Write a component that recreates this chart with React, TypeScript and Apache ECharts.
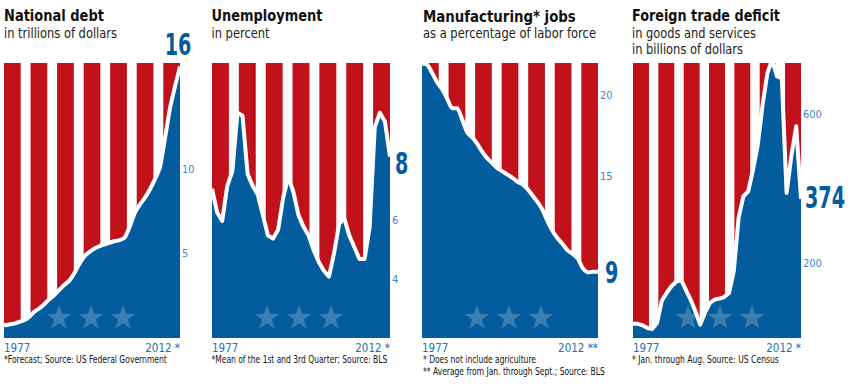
import React, { useEffect, useRef } from "react";
import * as echarts from "echarts";

// ---------- data ----------
const years = [
  1977, 1978, 1979, 1980, 1981, 1982, 1983, 1984, 1985, 1986, 1987, 1988,
  1989, 1990, 1991, 1992, 1993, 1994, 1995, 1996, 1997, 1998, 1999, 2000,
  2001, 2002, 2003, 2004, 2005, 2006, 2007, 2008, 2009, 2010, 2011, 2012,
];

const debtTrillions = [
  0.75, 0.8, 0.85, 0.95, 1.05, 1.25, 1.55, 1.75, 2.0, 2.3, 2.55, 2.85,
  3.15, 3.4, 3.85, 4.4, 4.85, 5.1, 5.3, 5.45, 5.55, 5.65, 5.75, 5.8,
  5.95, 6.6, 7.4, 7.9, 8.3, 8.8, 9.4, 10.1, 11.8, 13.6, 14.9, 16.1,
];

const unemploymentPct = [
  7.1, 6.3, 6.0, 7.2, 7.7, 9.7, 9.6, 7.6, 7.2, 6.9, 6.2, 5.5,
  5.4, 5.7, 6.8, 7.5, 7.0, 6.2, 5.8, 5.5, 5.0, 4.6, 4.3, 4.1,
  4.9, 5.9, 6.1, 5.5, 5.1, 4.7, 4.7, 5.8, 9.2, 9.7, 9.4, 8.2,
];

const manufacturingPct = [
  21.95, 21.9, 21.4, 20.8, 20.4, 19.8, 19.2, 19.2, 18.5, 17.7, 17.4, 17.0,
  16.5, 16.1, 15.8, 15.5, 15.3, 15.1, 14.9, 14.65, 14.5, 14.2, 13.8, 13.4,
  12.9, 12.2, 11.6, 11.15, 10.8, 10.4, 10.2, 9.9, 9.3, 9.05, 9.1, 9.1,
];

const tradeDeficitBn = [
  38, 38, 34, 27, 24, 40, 100, 121, 139, 151, 157, 130,
  103, 72, 36, 68, 94, 103, 106, 110, 121, 180, 323, 381,
  394, 452, 519, 627, 712, 748, 703, 698, 390, 490, 569, 374,
];

const seriesValues = [debtTrillions, unemploymentPct, manufacturingPct, tradeDeficitBn];

const titles = ["National debt", "Unemployment", "Manufacturing* jobs", "Foreign trade deficit"];
const subtitles = [
  ["in trillions of dollars"],
  ["in percent"],
  ["as a percentage of labor force"],
  ["in goods and services", "in billions of dollars"],
];
const footnotes = [
  ["*Forecast; Source: US Federal Government"],
  ["*Mean of the 1st and 3rd Quarter; Source: BLS"],
  ["* Does not include agriculture", "** Average from Jan. through Sept.; Source: BLS"],
  ["* Jan. through Aug. Source: US Census"],
];
const startYearLabels = ["1977", "1977", "1977", "1977"];
const endYearLabels = ["2012 *", "2012 *", "2012 **", "2012 *"];
const endValueLabels = ["16", "8", "9", "374"];
const tickValues = [[5, 10], [4, 6, 8], [15, 20], [200, 600]];
const tickLabelValues = [[5, 10], [4, 6], [15, 20], [200, 600]];
const yMins = [0, 2, 5, 0];
const yMaxs = [16.3, 11.4, 22, 739];

// ---------- layout / style ----------
const PLOT_TOP = 63;
const PLOT_HEIGHT = 275;
const plotLefts = [4, 212, 422, 633];
const plotWidths = [176, 178, 176, 168];
const textLefts = [4, 211.5, 423, 632];
const STRIPE_COUNT = 7;
const RED_SHARE = 0.63;
const STAR_OFFSETS = [55, 87, 119];
const STAR_Y = 317;

// target widths (px) of the condensed reference typography
const titleWidths = [100, 111, 153, 148];
const subtitleWidths = [[113], [58], [173], [124, 111]];
const footnoteWidths = [[163], [176], [113, 182], [147]];
const BIG_LABEL_REF_TEXT = "374";
const BIG_LABEL_REF_WIDTH = 40;
const endLabelAlign = ["center", "left", "left", "left"];
const endLabelDx = [-2, 5, 7, 4];
const endLabelDy = [-22, 7, 1, -1];

const RED = "#c1121b";
const BLUE = "#035c9d";
const TICK_BLUE = "#3f87c7";
const YEAR_BLUE = "#2470b3";
const FONT = "'DejaVu Sans Condensed', 'Liberation Sans Narrow', sans-serif";
const TITLE_FONT = `bold 16.5px ${FONT}`;
const SUB_FONT = `14.2px ${FONT}`;
const NOTE_FONT = `10.6px ${FONT}`;
const BIG_FONT = `bold 30px ${FONT}`;

let measureCtx: CanvasRenderingContext2D | null = null;
function textWidth(text: string, font: string) {
  if (!measureCtx) measureCtx = document.createElement("canvas").getContext("2d");
  if (!measureCtx) return 1;
  measureCtx.font = font;
  return measureCtx.measureText(text).width || 1;
}

function starPoints(cx: number, cy: number, R: number, r: number) {
  const pts: number[][] = [];
  for (let k = 0; k < 10; k++) {
    const a = -Math.PI / 2 + (k * Math.PI) / 5;
    const rad = k % 2 === 0 ? R : r;
    pts.push([cx + rad * Math.cos(a), cy + rad * Math.sin(a)]);
  }
  return pts;
}

function fittedText(text: string, font: string, width: number, x: number, y: number, fill: string) {
  return {
    type: "text",
    x,
    y,
    scaleX: width / textWidth(text, font),
    silent: true,
    style: { text, font, fill, align: "left", verticalAlign: "middle" },
  };
}

function buildOption() {
  const x0 = years[0];
  const x1 = years[years.length - 1];
  const period = (x1 - x0) / (STRIPE_COUNT - 1 + RED_SHARE);
  const stripeIdx = [0, 1, 2, 3, 4, 5, 6].slice(0, STRIPE_COUNT);
  const bigScale = BIG_LABEL_REF_WIDTH / textWidth(BIG_LABEL_REF_TEXT, BIG_FONT);

  const grid: any[] = [];
  const xAxis: any[] = [];
  const yAxis: any[] = [];
  const series: any[] = [];
  const graphic: any[] = [];

  for (let i = 0; i < 4; i++) {
    grid.push({ left: plotLefts[i], top: PLOT_TOP, width: plotWidths[i], height: PLOT_HEIGHT });
    xAxis.push({
      type: "value",
      gridIndex: i,
      min: x0,
      max: x1,
      axisLine: { show: false },
      axisTick: { show: false },
      splitLine: { show: false },
      axisLabel: {
        customValues: [x0, x1],
        formatter: (v: number) => (v === x0 ? startYearLabels[i] : endYearLabels[i]),
        alignMinLabel: "left",
        alignMaxLabel: "right",
        color: YEAR_BLUE,
        fontSize: 11.5,
        fontFamily: FONT,
        margin: 4,
      },
    });
    yAxis.push({
      type: "value",
      gridIndex: i,
      position: "right",
      min: yMins[i],
      max: yMaxs[i],
      splitLine: { show: false },
      axisLine: { show: false },
      axisTick: {
        show: true,
        inside: true,
        length: 6,
        customValues: tickValues[i],
        lineStyle: { color: "#d4e3f1", width: 1 },
      },
      axisLabel: {
        customValues: tickLabelValues[i],
        color: TICK_BLUE,
        fontSize: 11,
        fontFamily: FONT,
        margin: 2,
      },
    });

    const yMin = yMins[i];
    const yMax = yMaxs[i];
    series.push({
      type: "custom",
      xAxisIndex: i,
      yAxisIndex: i,
      silent: true,
      z: 1,
      encode: { x: [0, 1], y: [2, 3] },
      data: stripeIdx.map((k) => [x0 + k * period, x0 + k * period + RED_SHARE * period, yMin, yMax]),
      renderItem: (_p: any, api: any) => {
        const a = api.coord([api.value(0), api.value(3)]);
        const b = api.coord([api.value(1), api.value(2)]);
        return {
          type: "rect",
          shape: { x: a[0], y: a[1], width: b[0] - a[0], height: b[1] - a[1] },
          style: { fill: RED },
        };
      },
    });

    const vals = seriesValues[i];
    series.push({
      type: "line",
      xAxisIndex: i,
      yAxisIndex: i,
      z: 2,
      clip: i !== 3,
      showSymbol: false,
      symbol: "none",
      silent: true,
      smooth: i === 0 || i === 2 ? 0.2 : false,
      data: years.map((y, k) => [y, vals[k]]),
      lineStyle: { color: "#ffffff", width: 4, join: "round" },
      areaStyle: { color: BLUE, opacity: 1, origin: "start" },
    });

    // large end-value label, positioned from the last data point
    series.push({
      type: "custom",
      xAxisIndex: i,
      yAxisIndex: i,
      z: 5,
      silent: true,
      clip: false,
      encode: { x: 0, y: 1 },
      data: [[years[years.length - 1], vals[vals.length - 1]]],
      renderItem: (_p: any, api: any) => {
        const pt = api.coord([api.value(0), api.value(1)]);
        return {
          type: "text",
          x: pt[0] + endLabelDx[i],
          y: pt[1] + endLabelDy[i],
          scaleX: bigScale,
          style: {
            text: endValueLabels[i],
            fill: BLUE,
            font: BIG_FONT,
            align: endLabelAlign[i],
            verticalAlign: "middle",
          },
        };
      },
    });

    graphic.push(fittedText(titles[i], TITLE_FONT, titleWidths[i], textLefts[i], 16, "#111"));
    subtitles[i].forEach((s, k) => {
      graphic.push(fittedText(s, SUB_FONT, subtitleWidths[i][k], textLefts[i], 33 + k * 15.4, "#222"));
    });
    footnotes[i].forEach((s, k) => {
      graphic.push(fittedText(s, NOTE_FONT, footnoteWidths[i][k], textLefts[i], 359.5 + k * 12, "#111"));
    });
    STAR_OFFSETS.forEach((dx) => {
      graphic.push({
        type: "polygon",
        z: 10,
        silent: true,
        shape: { points: starPoints(plotLefts[i] + dx, STAR_Y + 1, 13, 5.2) },
        style: { fill: "rgba(255,255,255,0.22)" },
      });
    });
  }

  return { animation: false, grid, xAxis, yAxis, series, graphic };
}

export default function App() {
  const ref = useRef<HTMLDivElement>(null);
  useEffect(() => {
    if (!ref.current) return;
    const chart = echarts.init(ref.current, undefined, { renderer: "svg" });
    chart.setOption(buildOption() as any);
    return () => chart.dispose();
  }, []);
  return (
    <div
      ref={ref}
      style={{ position: "absolute", left: 0, top: 0, width: 850, height: 384, background: "#fff" }}
    />
  );
}
